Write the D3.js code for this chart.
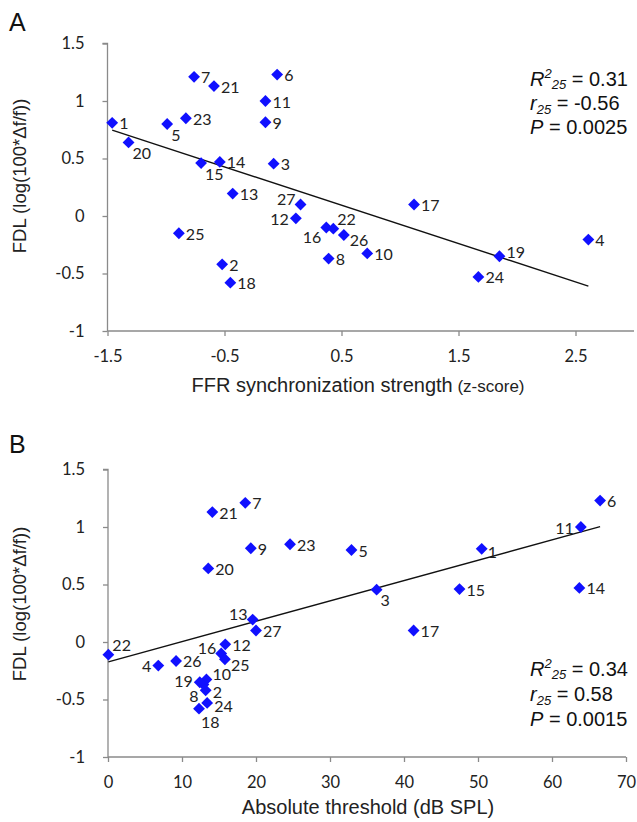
<!DOCTYPE html>
<html><head><meta charset="utf-8">
<script src="https://cdn.jsdelivr.net/npm/d3@7"></script>
<style>body{margin:0;background:#fff}</style>
</head><body>
<svg id="c" width="637" height="822"></svg>
<script>
// ---------- data ----------
const subjectIds = [1,2,3,4,5,6,7,8,9,10,11,12,13,14,15,16,17,18,19,20,21,22,23,24,25,26,27];
const fdl = [0.81,-0.42,0.455,-0.205,0.80,1.23,1.21,-0.37,0.815,-0.325,1.00,-0.02,0.195,0.47,0.46,-0.10,0.10,-0.58,-0.35,0.64,1.13,-0.11,0.85,-0.53,-0.15,-0.165,0.10];
const ffrZ = [-1.46,-0.52,-0.08,2.61,-0.99,-0.05,-0.76,0.39,-0.15,0.72,-0.15,0.11,-0.43,-0.54,-0.70,0.37,1.12,-0.45,1.85,-1.32,-0.59,0.43,-0.83,1.67,-0.89,0.52,0.15];
const absThr = [50.5,13.2,36.3,6.8,32.9,66.5,18.55,12.9,19.3,13.3,63.9,15.85,19.55,63.7,47.5,15.3,41.3,12.3,12.4,13.55,14.1,0.05,24.6,13.4,15.8,9.2,20.0];
const fitA = [0.26, -0.333];   // intercept, slope
const fitB = [-0.174, 0.0177];
const statsA = ["0.31", "-0.56", "0.0025"];
const statsB = ["0.34", "0.58", "0.0015"];
const yTicks = [-1, -0.5, 0, 0.5, 1, 1.5];
const xTicksA = [-1.5, -0.5, 0.5, 1.5, 2.5];
const xTicksB = [0, 10, 20, 30, 40, 50, 60, 70];
// label placement codes (layout)
const labelPosA = ["r","r","r","r","br","r","r","r","r","r","r","l","r","r","br","bl","r","r","ru","br","r","tr","r","r","r","rd","tl"];
const labelPosB = ["rd2","r1","br","l","r","r","r","bl2","r","ru2","l","r","tl","r","r","tl","r","b","l2","r","r","tr","r","rd3","rd","r","r"];

// ---------- layout ----------
const offsets = {
  r:[7,0,"start"], l:[-7,0,"end"], tr:[4,-10,"start"], tl:[-5,-6,"end"],
  br:[4,10,"start"], bl:[-5,9,"end"], rd:[6,5,"start"], ru:[7,-5,"start"], b:[2,13,"start"],
  rd2:[6,3,"start"], ru2:[6,-6,"start"], bl2:[-5,11,"end"], l2:[-7,-2,"end"], r1:[7,1,"start"], rd3:[7,3,"start"]
};
const svg = d3.select("#c");
const AX = "#8a8a8a";
const fmt = v => String(v);

function panel(cfg) {
  const x = d3.scaleLinear().domain(cfg.xDomain).range(cfg.xRange);
  const y = d3.scaleLinear().domain([-1, 1.5]).range(cfg.yRange);
  const g = svg.append("g");

  const ya = g.append("g").attr("transform", `translate(${cfg.xRange[0]},0)`)
    .call(d3.axisLeft(y).tickValues(yTicks).tickSize(5).tickPadding(18).tickFormat(fmt));
  const xa = g.append("g").attr("transform", `translate(0,${cfg.yRange[0]})`)
    .call(d3.axisBottom(x).tickValues(cfg.xTicks).tickSize(5).tickPadding(14).tickFormat(fmt).tickSizeOuter(0));
  [ya, xa].forEach(a => {
    a.select(".domain").attr("stroke", AX).attr("stroke-width", 1.3);
    a.selectAll(".tick line").attr("stroke", AX).attr("stroke-width", 1.3);
    a.selectAll(".tick text").attr("fill", "#222").style("font-family", "Lato").style("font-size", "16.5px");
  });
  ya.select(".domain").attr("d", `M-5,${cfg.yRange[1]}H0V${cfg.yRange[0]}`);
  xa.select(".domain").attr("d", `M${cfg.xRange[0]},0H${cfg.xRange[1]}`);

  // regression line
  const ext = d3.extent(cfg.xs);
  g.append("line")
    .attr("x1", x(ext[0])).attr("y1", y(cfg.fit[0] + cfg.fit[1] * ext[0]))
    .attr("x2", x(ext[1])).attr("y2", y(cfg.fit[0] + cfg.fit[1] * ext[1]))
    .attr("stroke", "#111").attr("stroke-width", 1.4);

  const pts = subjectIds.map((id, i) => ({id, x: cfg.xs[i], y: fdl[i], pos: cfg.pos[i]}));
  const sym = d3.symbol(d3.symbolSquare, 70);
  g.selectAll("path.pt").data(pts).join("path").attr("class", "pt")
    .attr("d", sym)
    .attr("transform", d => `translate(${x(d.x)},${y(d.y)}) rotate(45)`)
    .attr("fill", "#1010ff");
  g.selectAll("text.lab").data(pts).join("text").attr("class", "lab")
    .attr("x", d => x(d.x) + offsets[d.pos][0])
    .attr("y", d => y(d.y) + offsets[d.pos][1])
    .attr("text-anchor", d => offsets[d.pos][2])
    .attr("dominant-baseline", "central")
    .style("font-family", "Lato").style("font-size", "16px").attr("fill", "#222")
    .text(d => d.id);

  // panel letter
  svg.append("text").attr("x", 9).attr("y", cfg.letterY).text(cfg.letter)
    .style("font-family", "Liberation Sans").style("font-size", "25px").attr("fill", "#111");

  // y title
  svg.append("text").attr("transform", `translate(26,${cfg.yTitleY}) rotate(-90)`)
    .attr("text-anchor", "middle")
    .style("font-family", "Liberation Sans").style("font-size", "18.5px").attr("fill", "#222")
    .text("FDL (log(100*Δf/f))");

  // x title
  const xt = svg.append("text").attr("x", cfg.xTitleX).attr("y", cfg.xTitleY).attr("text-anchor", "middle")
    .style("font-family", "Liberation Sans").style("font-size", "20px").attr("fill", "#222");
  xt.append("tspan").text(cfg.xTitle);
  if (cfg.xTitleSmall) xt.append("tspan").style("font-size", "17px").text(" " + cfg.xTitleSmall);

  // stats
  const st = svg.append("g").style("font-family", "Liberation Sans").style("font-size", "20px").attr("fill", "#111");
  const l1 = st.append("text").attr("x", cfg.statsX).attr("y", cfg.statsY[0]);
  l1.append("tspan").style("font-style", "italic").text("R");
  l1.append("tspan").style("font-style", "italic").style("font-size", "13px").attr("dy", -8).text("2");
  l1.append("tspan").style("font-style", "italic").style("font-size", "13px").attr("dy", 11).text("25");
  l1.append("tspan").attr("dy", -3).text(" = " + cfg.stats[0]);
  const l2 = st.append("text").attr("x", cfg.statsX).attr("y", cfg.statsY[1]);
  l2.append("tspan").style("font-style", "italic").text("r");
  l2.append("tspan").style("font-style", "italic").style("font-size", "13px").attr("dy", 4).text("25");
  l2.append("tspan").attr("dy", -4).text(" = " + cfg.stats[1]);
  const l3 = st.append("text").attr("x", cfg.statsX).attr("y", cfg.statsY[2]);
  l3.append("tspan").style("font-style", "italic").text("P");
  l3.append("tspan").text(" = " + cfg.stats[2]);
}

panel({
  letter: "A", letterY: 31,
  xDomain: [-1.5, 3], xRange: [107.5, 634], yRange: [331, 43.5], xTicks: xTicksA,
  xs: ffrZ, fit: fitA, pos: labelPosA,
  yTitleY: 176, xTitle: "FFR synchronization strength", xTitleSmall: "(z-score)", xTitleX: 358, xTitleY: 392,
  stats: statsA, statsX: 530, statsY: [86, 110, 134]
});
panel({
  letter: "B", letterY: 453,
  xDomain: [0, 70], xRange: [108, 626], yRange: [757, 469.5], xTicks: xTicksB,
  xs: absThr, fit: fitB, pos: labelPosB,
  yTitleY: 604, xTitle: "Absolute threshold (dB SPL)", xTitleSmall: null, xTitleX: 368, xTitleY: 814,
  stats: statsB, statsX: 530, statsY: [676, 701, 726]
});
</script>
</body></html>
